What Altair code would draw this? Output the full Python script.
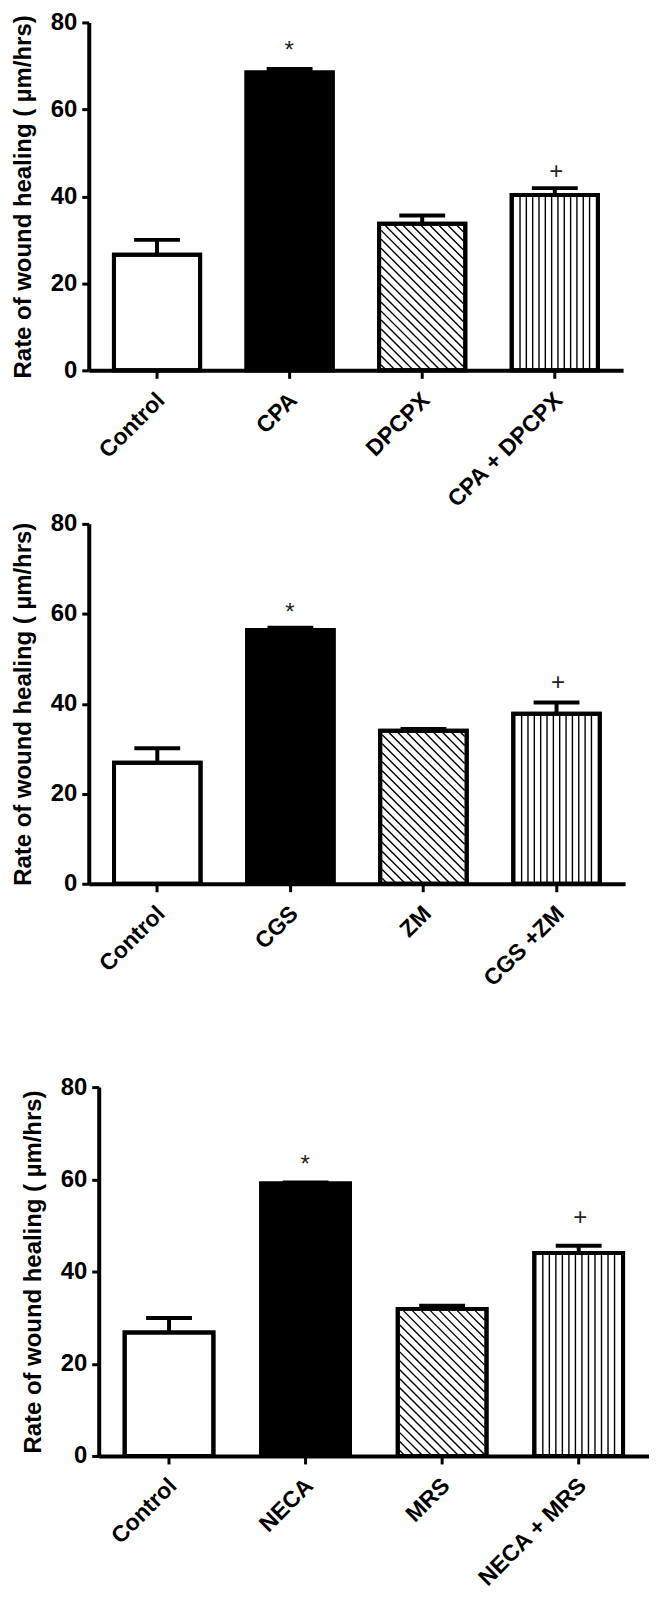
import altair as alt
import pandas as pd

# ---------------- data ----------------
cats_a = ["Control", "CPA", "DPCPX", "CPA + DPCPX"]
mean_a = [26.6, 68.5, 33.7, 40.3]
upper_a = [30.0, 69.3, 35.6, 41.9]
sig_a = ["", "*", "", "+"]
sig_y_a = [0, 73.4, 0, 45.7]

cats_b = ["Control", "CGS", "ZM", "CGS +ZM"]
mean_b = [26.9, 56.4, 34.0, 37.8]
upper_b = [30.1, 56.9, 34.4, 40.3]
sig_b = ["", "*", "", "+"]
sig_y_b = [0, 60.1, 0, 44.7]

cats_c = ["Control", "NECA", "MRS", "NECA + MRS"]
mean_c = [26.8, 59.1, 31.9, 44.0]
upper_c = [29.9, 59.3, 32.6, 45.6]
sig_c = ["", "*", "", "+"]
sig_y_c = [0, 63.0, 0, 51.5]

y_ticks = [0, 20, 40, 60, 80]

# ---------------- style ----------------
FONT = "Liberation Sans"
PI, PO = 0.35, 0.19
YMAX = 80
YTITLE = "Rate of wound healing  ( µm/hrs)"
FILLS = ["white", "black", "white", "white"]
PATTERNS = ["none", "none", "diag", "vert"]
STROKE = 4


def hatch_rows(cats, means, W, H):
    D = len(cats) - PI + 2 * PO
    upx = D / W
    vpx = YMAX / H
    rows = []
    for i, m in enumerate(means):
        left = PO + i
        right = PO + i + (1 - PI)
        xl = left + 2 * upx
        xr = right - 2 * upx
        top = m - 2 * vpx
        wpx = (xr - xl) / upx
        hpx = top / vpx
        if PATTERNS[i] == "diag":
            s = 9.0
            c = s * 0.6
            while c < wpx + hpx:
                xs = max(0.0, c - hpx)
                xe = min(wpx, c)
                if xe > xs:
                    rows.append({"x": xl + xs * upx, "x2": xl + xe * upx,
                                 "y": (c - xs) * vpx, "y2": (c - xe) * vpx})
                c += s
        elif PATTERNS[i] == "vert":
            n = 13
            sp = wpx / n
            for j in range(1, n):
                xp = xl + j * sp * upx
                rows.append({"x": xp, "x2": xp, "y": 0.0, "y2": top})
    return pd.DataFrame(rows), D


def panel(cats, means, uppers, sigs, sig_ys, W, H, title_pad, x0=0):
    df = pd.DataFrame({"cat": cats, "idx": list(range(len(cats))), "mean": means,
                       "upper": uppers, "sig": sigs, "sig_y": sig_ys})
    hdf, D = hatch_rows(cats, means, W, H)
    xscale = alt.Scale(domain=cats, paddingInner=PI, paddingOuter=PO, range=[x0, x0 + W])
    yscale = alt.Scale(domain=[0, YMAX], nice=False, zero=True)
    base = alt.Chart(df)

    xaxis = alt.Axis(title=None, labelAngle=-45, labelAlign="right", labelBaseline="middle",
                     labelFont=FONT, labelFontSize=23, labelFontWeight="bold", labelColor="black",
                     labelPadding=18, labelOffset=4, tickSize=8, tickWidth=3, tickColor="black",
                     domainColor="black", domainWidth=STROKE, grid=False)
    yaxis = alt.Axis(title=YTITLE, values=y_ticks, titleFont=FONT, titleFontSize=24,
                     titleFontWeight="bold", titleColor="black", titlePadding=title_pad,
                     labelFont=FONT, labelFontSize=24, labelFontWeight="bold", labelColor="black",
                     labelPadding=5, tickSize=7, tickWidth=3, tickColor="black",
                     domainColor="black", domainWidth=STROKE, grid=False, orient="left",
                     offset=-x0)

    bars = base.mark_bar(stroke="black", strokeWidth=STROKE).encode(
        x=alt.X("cat:N", sort=cats, scale=xscale, axis=xaxis),
        y=alt.Y("mean:Q", scale=yscale, axis=yaxis),
        fill=alt.Fill("idx:N", scale=alt.Scale(domain=[0, 1, 2, 3], range=FILLS), legend=None),
    )
    hatch = alt.Chart(hdf).mark_rule(color="black", strokeWidth=1.4).encode(
        x=alt.X("x:Q", scale=alt.Scale(domain=[0, D], nice=False, zero=False,
                                       range=[x0, x0 + W]), axis=None),
        x2="x2:Q",
        y=alt.Y("y:Q", scale=yscale, axis=None),
        y2="y2:Q",
    )
    outline = base.mark_bar(stroke="black", strokeWidth=STROKE, fillOpacity=0).encode(
        x=alt.X("cat:N", sort=cats, scale=xscale, axis=None),
        y=alt.Y("mean:Q", scale=yscale, axis=None),
    )
    err = base.mark_rule(color="black", strokeWidth=STROKE).encode(
        x=alt.X("cat:N", sort=cats, scale=xscale, axis=None),
        y=alt.Y("mean:Q", scale=yscale, axis=None),
        y2="upper:Q",
    )
    cap = base.mark_tick(color="black", thickness=STROKE, size=46, opacity=1).encode(
        x=alt.X("cat:N", sort=cats, scale=xscale, axis=None),
        y=alt.Y("upper:Q", scale=yscale, axis=None),
    )
    txt = base.transform_filter(alt.datum.sig != "").mark_text(
        font=FONT, fontSize=24, color="#222222", baseline="middle").encode(
        x=alt.X("cat:N", sort=cats, scale=xscale, axis=None),
        y=alt.Y("sig_y:Q", scale=yscale, axis=None),
        text="sig:N",
    )
    return alt.layer(bars, hatch, outline, err, cap, txt).resolve_scale(
        x="independent").resolve_axis(y="independent").properties(width=x0 + W, height=H)


p1 = panel(cats_a, mean_a, upper_a, sig_a, sig_y_a, 536, 349, 15)
p2 = panel(cats_b, mean_b, upper_b, sig_b, sig_y_b, 538, 361, 15)
p3 = panel(cats_c, mean_c, upper_c, sig_c, sig_y_c, 552, 370, 15, x0=10)

inner = alt.vconcat(p1, p2, spacing=154, bounds="flush")
chart = alt.vconcat(inner, p3, spacing=84).properties(
    padding={"left": 3, "top": 0, "right": 0, "bottom": 0}
).configure_view(stroke=None)

chart.save("out.html", embed_options={"renderer": "svg", "actions": False})
